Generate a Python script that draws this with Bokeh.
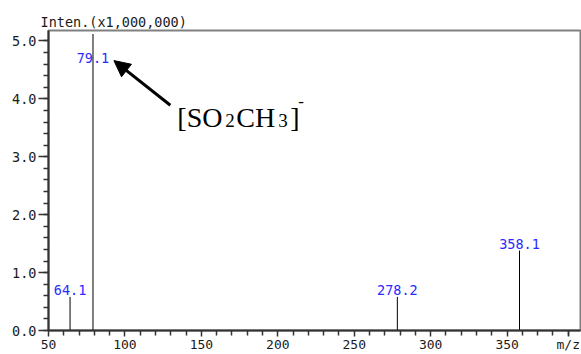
from bokeh.plotting import figure
from bokeh.models import (ColumnDataSource, LabelSet, Label, Arrow, NormalHead,
                          FixedTicker, SingleIntervalTicker, PrintfTickFormatter,
                          Range1d)
from bokeh.core.properties import value
from bokeh.embed import file_html
from bokeh.resources import INLINE

# Mass spectrum peaks (m/z, intensity in units of 1,000,000)
mz = [64.1, 79.1, 278.2, 358.1]
intensity = [0.58, 5.12, 0.58, 1.38]
peak_labels = ["64.1", "79.1", "278.2", "358.1"]
# vertical anchor of each peak label (the tallest one is kept inside the frame)
label_y = [0.58, 4.59, 0.58, 1.38]

# x axis ticks; the unit caption sits in the tick-label row at the far right
x_major = [50, 100, 150, 200, 250, 300, 350]
x_minor = [60, 70, 80, 90, 110, 120, 130, 140, 160, 170, 180, 190, 210, 220, 230,
           240, 260, 270, 280, 290, 310, 320, 330, 340, 360, 370, 380, 390]
x_unit_pos = 390
x_unit_text = "m/z"
y_caption = "Inten.(x1,000,000)"

x_start, x_end = 50, 398
y_start, y_end = 0, 5.18

MONO = "DejaVu Sans Mono"
SERIF = "Liberation Serif"
INK = "#1a1a1a"
BLUE = "#2a2aff"

p = figure(width=581, height=354, output_backend="svg", toolbar_location=None,
           x_range=Range1d(x_start, x_end), y_range=Range1d(y_start, y_end),
           min_border_left=48, min_border_right=1, min_border_top=30,
           min_border_bottom=23)
p.grid.visible = False
p.outline_line_color = "#808080"
p.outline_line_width = 2
p.background_fill_color = "white"
p.border_fill_color = "white"

# caption of the intensity axis, above the frame
p.title.text = y_caption
p.title.align = "left"
p.title.offset = -8
p.title.standoff = 2
p.title.text_font = MONO
p.title.text_font_size = "13.5px"
p.title.text_font_style = "normal"
p.title.text_color = INK

# peaks as vertical sticks
src = ColumnDataSource(dict(x=mz, top=intensity, ly=label_y, text=peak_labels,
                            bottom=[0] * len(mz)))
p.segment(x0="x", y0="bottom", x1="x", y1="top", source=src,
          line_color="black", line_width=1)

p.add_layout(LabelSet(x="x", y="ly", text="text", source=src,
                      text_align="center", text_baseline="bottom", y_offset=2,
                      text_font=value(MONO), text_font_size=value("13.5px"),
                      text_color=BLUE))

# axes
p.xaxis.ticker = FixedTicker(ticks=x_major + [x_unit_pos], minor_ticks=x_minor)
p.xaxis.major_label_overrides = {x_unit_pos: x_unit_text}
p.yaxis.ticker = SingleIntervalTicker(interval=1, num_minor_ticks=5)
p.yaxis.formatter = PrintfTickFormatter(format="%.1f")
for ax in (p.xaxis, p.yaxis):
    ax.axis_line_color = "#333333"
    ax.axis_line_width = 2
    ax.major_tick_line_color = "#333333"
    ax.minor_tick_line_color = "#333333"
    ax.major_tick_line_width = 1.5
    ax.minor_tick_line_width = 1.5
    ax.major_tick_in = 0
    ax.minor_tick_in = 0
    ax.major_label_text_font = MONO
    ax.major_label_text_color = INK
p.yaxis.major_label_text_font_size = "13.5px"
p.xaxis.major_label_text_font_size = "13px"
p.yaxis.major_tick_out = 10
p.yaxis.minor_tick_out = 5
p.yaxis.major_label_standoff = 2
p.xaxis.major_tick_out = 6
p.xaxis.minor_tick_out = 5
p.xaxis.major_label_standoff = 0

# arrow pointing at the base peak
p.add_layout(Arrow(x_start=129.7, y_start=3.89, x_end=92.8, y_end=4.66,
                   line_width=3, line_color="black",
                   end=NormalHead(size=16, fill_color="black", line_color="black")))

# ion formula [SO2CH3]- composed of normal, subscript and superscript pieces
fx, fy = 134.3, 3.68
pieces = [("[SO", 0, 0, "28px"), ("2", 48, -3, "19px"), ("CH", 59, 0, "28px"),
          ("3", 101, -3, "19px"), ("]", 113, 0, "28px"), ("-", 121, 16, "17px")]
for txt, dx, dy, size in pieces:
    p.add_layout(Label(x=fx, y=fy, text=txt, x_offset=dx, y_offset=dy,
                       text_baseline="alphabetic", text_font=SERIF,
                       text_font_size=size, text_color="black"))

open("out.html", "w").write(file_html(p, INLINE))
